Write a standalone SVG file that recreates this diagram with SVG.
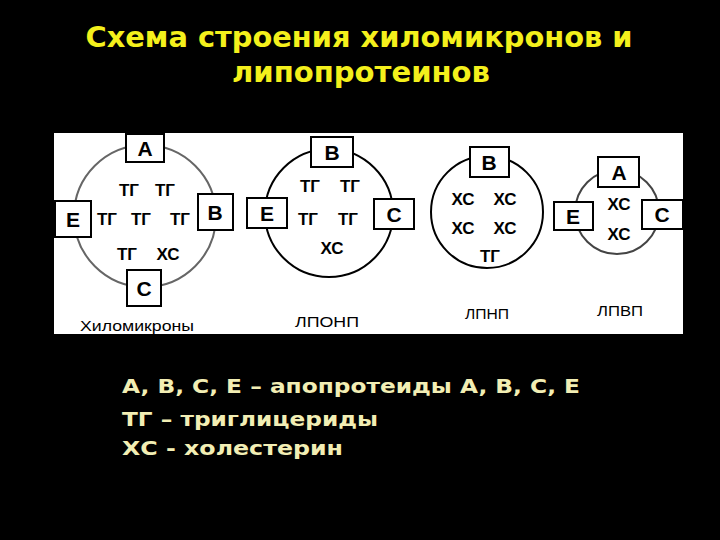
<svg xmlns="http://www.w3.org/2000/svg" width="720" height="540" viewBox="0 0 720 540">
<style>
.title{font-family:"DejaVu Sans","Liberation Sans",sans-serif;font-weight:bold;font-size:29px;fill:#f4f01c}
.leg{font-family:"DejaVu Sans","Liberation Sans",sans-serif;font-weight:bold;font-size:20px;fill:#f2eeb4}
.box{fill:#fff;stroke:#000;stroke-width:2}
.bl{font-family:"Liberation Sans",Arial,sans-serif;font-size:21px;font-weight:bold;fill:#000;text-anchor:middle}
.in{font-family:"Liberation Sans",Arial,sans-serif;font-size:17px;font-weight:bold;fill:#000;text-anchor:middle}
.lab{font-family:"Liberation Sans",Arial,sans-serif;font-size:14px;fill:#000;text-anchor:middle}
</style>
<rect x="0" y="0" width="720" height="540" fill="#000"/>
<text class="title" x="359" y="47" text-anchor="middle" textLength="547" lengthAdjust="spacingAndGlyphs">Схема строения хиломикронов и</text>
<text class="title" x="361" y="82" text-anchor="middle" textLength="258" lengthAdjust="spacingAndGlyphs">липопротеинов</text>
<rect x="54" y="133" width="629" height="201" fill="#fff"/>
<g id="chylomicron">
<circle cx="145" cy="216" r="71" fill="#fff" stroke="#666" stroke-width="2"/>
<rect class="box" x="126" y="134" width="38" height="28"/>
<text class="bl" x="145" y="156">A</text>
<rect class="box" x="55" y="201" width="36" height="36"/>
<text class="bl" x="73" y="227">E</text>
<rect class="box" x="198" y="194" width="35" height="36"/>
<text class="bl" x="215" y="220">B</text>
<rect class="box" x="127" y="270" width="34" height="36"/>
<text class="bl" x="144" y="296">C</text>
<text class="in" x="129" y="196">ТГ</text>
<text class="in" x="165" y="196">ТГ</text>
<text class="in" x="107" y="225">ТГ</text>
<text class="in" x="141" y="225">ТГ</text>
<text class="in" x="180" y="225">ТГ</text>
<text class="in" x="127" y="260">ТГ</text>
<text class="in" x="168" y="260">ХС</text>
<text class="lab" x="137" y="331" textLength="114" lengthAdjust="spacingAndGlyphs">Хиломикроны</text>
</g>
<g id="vldl">
<circle cx="329" cy="213" r="64" fill="#fff" stroke="#000" stroke-width="2"/>
<rect class="box" x="311" y="137" width="42" height="30"/>
<text class="bl" x="332" y="160">B</text>
<rect class="box" x="247" y="198" width="40" height="30"/>
<text class="bl" x="267" y="221">E</text>
<rect class="box" x="374" y="199" width="40" height="30"/>
<text class="bl" x="394" y="222">C</text>
<text class="in" x="310" y="192">ТГ</text>
<text class="in" x="350" y="192">ТГ</text>
<text class="in" x="308" y="225">ТГ</text>
<text class="in" x="348" y="225">ТГ</text>
<text class="in" x="332" y="254">ХС</text>
<text class="lab" x="327" y="327" textLength="64" lengthAdjust="spacingAndGlyphs">ЛПОНП</text>
</g>
<g id="ldl">
<circle cx="487" cy="212" r="56" fill="#fff" stroke="#000" stroke-width="2"/>
<rect class="box" x="470" y="147" width="39" height="30"/>
<text class="bl" x="489" y="170">B</text>
<text class="in" x="463" y="205">ХС</text>
<text class="in" x="505" y="205">ХС</text>
<text class="in" x="463" y="234">ХС</text>
<text class="in" x="505" y="234">ХС</text>
<text class="in" x="490" y="262">ТГ</text>
<text class="lab" x="487" y="319" textLength="44" lengthAdjust="spacingAndGlyphs">ЛПНП</text>
</g>
<g id="hdl">
<circle cx="617" cy="212" r="42" fill="#fff" stroke="#444" stroke-width="2"/>
<rect class="box" x="598" y="157" width="41" height="30"/>
<text class="bl" x="619" y="180">A</text>
<rect class="box" x="554" y="202" width="39" height="28"/>
<text class="bl" x="573" y="224">E</text>
<rect class="box" x="642" y="200" width="41" height="29"/>
<text class="bl" x="662" y="222">C</text>
<text class="in" x="619" y="210">ХС</text>
<text class="in" x="619" y="240">ХС</text>
<text class="lab" x="620" y="316" textLength="46" lengthAdjust="spacingAndGlyphs">ЛПВП</text>
</g>
<g id="connectors"></g>
<g id="legend">
<text class="leg" x="122" y="393" textLength="458" lengthAdjust="spacingAndGlyphs">A, B, C, E – апопротеиды A, B, C, E</text>
<text class="leg" x="122" y="426" textLength="256" lengthAdjust="spacingAndGlyphs">ТГ – триглицериды</text>
<text class="leg" x="122" y="455" textLength="221" lengthAdjust="spacingAndGlyphs">ХС - холестерин</text>
</g>
</svg>
